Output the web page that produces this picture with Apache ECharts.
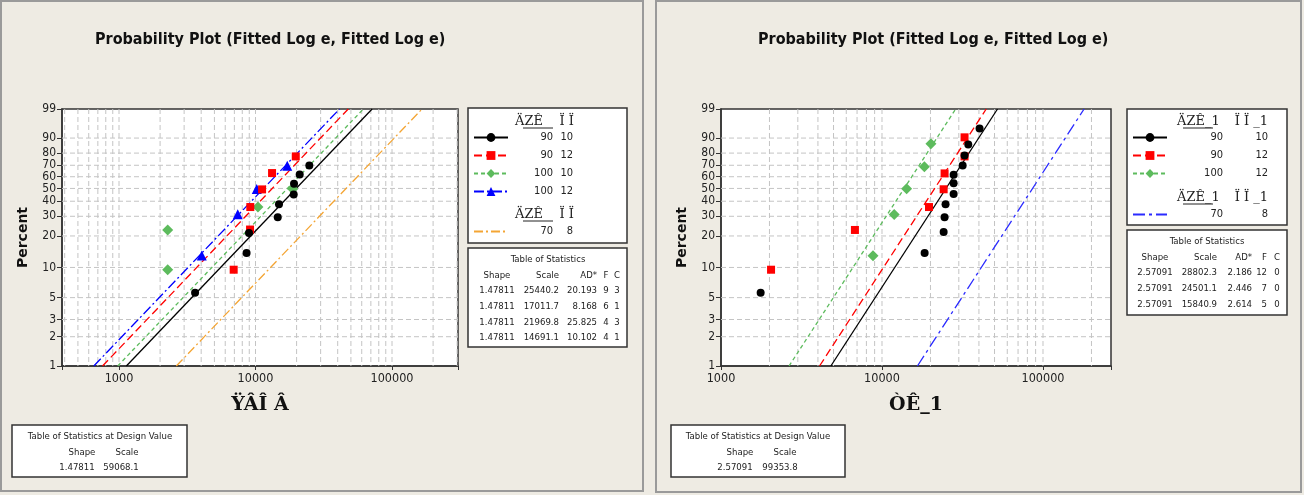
<!DOCTYPE html>
<html>
<head>
<meta charset="utf-8">
<script src="https://cdn.jsdelivr.net/npm/echarts@6/dist/echarts.min.js"></script>
<style>html,body{margin:0;padding:0;background:#eeebe3}#main{width:1304px;height:495px}</style>
</head>
<body>
<div id="main"></div>
<script>
// axis ticks
var pctTicks = [1, 2, 3, 5, 10, 20, 30, 40, 50, 60, 70, 80, 90, 99];
var pctGrid = [2, 3, 5, 10, 20, 30, 40, 50, 60, 70, 80, 90];
var timeTicks = [1000, 10000, 100000];
var leftTimeGrid = [400, 500, 600, 700, 800, 900, 1000, 2000, 3000, 4000, 5000, 6000, 7000, 8000, 9000,
	10000, 20000, 30000, 40000, 50000, 60000, 70000, 80000, 90000, 100000, 200000, 300000];
var rightTimeGrid = [2000, 3000, 4000, 5000, 6000, 7000, 8000, 9000, 10000, 20000, 30000, 40000, 50000,
	60000, 70000, 80000, 90000, 100000, 200000];

// left plot points (time, percent)
var l9010x = [3608, 8600, 8960, 14550, 14860, 19050, 19150, 21070, 24790];
var l9010p = [5.6, 13.8, 21.3, 29.4, 37.8, 45.2, 54.0, 62.0, 69.9];
var l9012x = [6920, 9120, 9160, 11170, 13220, 19720];
var l9012p = [9.5, 22.9, 35.9, 49.2, 63.2, 77.4];
var l10010x = [2273, 2273, 10420, 18720];
var l10010p = [9.5, 22.7, 35.9, 49.5];
var l10012x = [4037, 7410, 10210, 17090];
var l10012p = [13.1, 31.2, 49.5, 69.6];

// right plot points
var r9010x = [1763, 18400, 24150, 24480, 24820, 27860, 27860, 27860, 31700, 32570, 34350, 40370];
var r9010p = [5.6, 13.8, 21.7, 29.5, 37.9, 45.4, 54.3, 61.7, 69.9, 78.2, 86.2, 94.5];
var r9012x = [2046, 6790, 19590, 24150, 24480, 32570, 32570];
var r9012p = [9.5, 22.7, 35.9, 49.3, 62.9, 77.4, 90.4];
var r10012x = [8790, 11910, 14220, 18330, 20130];
var r10012p = [13.0, 31.1, 49.7, 68.7, 86.6];

// table of statistics
var leftGroups = [['90', '10'], ['90', '12'], ['100', '10'], ['100', '12']];
var leftShape = ['1.47811', '1.47811', '1.47811', '1.47811'];
var leftScale = ['25440.2', '17011.7', '21969.8', '14691.1'];
var leftAD = ['20.193', '8.168', '25.825', '10.102'];
var leftF = ['9', '6', '4', '4'];
var leftC = ['3', '1', '3', '1'];
var leftDesign = ['1.47811', '59068.1'];

var rightGroups = [['90', '10'], ['90', '12'], ['100', '12']];
var rightShape = ['2.57091', '2.57091', '2.57091'];
var rightScale = ['28802.3', '24501.1', '15840.9'];
var rightAD = ['2.186', '2.446', '2.614'];
var rightF = ['12', '7', '5'];
var rightC = ['0', '0', '0'];
var rightDesign = ['2.57091', '99353.8'];
var designGroup = ['70', '8'];

var yMin = wb(1), yMax = wb(99);
var font = "'DejaVu Sans Condensed', 'DejaVu Sans', sans-serif";

function wb(p) {
	return Math.log(-Math.log(1 - p / 100));
}
function pts(xs, ps) {
	return xs.map(function (x, i) { return [x, wb(ps[i])]; });
}
function fit(shape, scale) {
	shape = +shape; scale = +scale;
	return [[scale * Math.exp(yMin / shape), yMin], [scale * Math.exp(yMax / shape), yMax]];
}

var legendText = {};
leftGroups.forEach(function (g, i) { legendText['L' + i] = g; });
rightGroups.forEach(function (g, i) { legendText['R' + i] = g; });
legendText['LD'] = designGroup;
legendText['RD'] = designGroup;

function xAxisOf(idx, min, max, name) {
	return {
		type: 'log', gridIndex: idx, min: min, max: max,
		name: name, nameLocation: 'middle', nameGap: 30,
		nameTextStyle: { fontFamily: 'DejaVu Serif', fontWeight: 'bold', fontSize: 19, color: '#111' },
		axisLine: { onZero: false, lineStyle: { color: '#333', width: 1.5 } },
		axisTick: { length: 4, lineStyle: { color: '#333' } },
		axisLabel: {
			margin: 6, color: '#222', fontSize: 12.5, fontFamily: font,
			showMinLabel: true, showMaxLabel: true,
			formatter: function (v) {
				for (var i = 0; i < timeTicks.length; i++) {
					if (Math.abs(v - timeTicks[i]) / timeTicks[i] < 1e-6) return String(timeTicks[i]);
				}
				return '';
			}
		},
		splitLine: { show: false }
	};
}
function yAxisOf(idx) {
	var vals = pctTicks.map(wb);
	return {
		type: 'value', gridIndex: idx, min: yMin, max: yMax,
		name: 'Percent', nameLocation: 'middle', nameGap: 32,
		nameTextStyle: { fontWeight: 'bold', fontSize: 14, color: '#111', fontFamily: 'DejaVu Sans' },
		axisLine: { show: true, onZero: false, lineStyle: { color: '#333', width: 1.5 } },
		axisTick: { show: true, length: 5, customValues: vals, lineStyle: { color: '#333' } },
		axisLabel: {
			margin: 6, color: '#222', fontSize: 12, fontFamily: font, customValues: vals,
			formatter: function (v) {
				for (var i = 0; i < pctTicks.length; i++) {
					if (Math.abs(v - vals[i]) < 1e-6) return String(pctTicks[i]);
				}
				return '';
			}
		},
		splitLine: { show: false }
	};
}

function vGrid(params, api) {
	var cs = params.coordSys;
	var x = api.coord([api.value(0), api.value(1)])[0];
	return { type: 'line', shape: { x1: x, y1: cs.y, x2: x, y2: cs.y + cs.height },
		style: { stroke: '#c4c4c4', lineWidth: 1, lineDash: [5, 3] } };
}
function hGrid(params, api) {
	var cs = params.coordSys;
	var y = api.coord([api.value(0), api.value(1)])[1];
	return { type: 'line', shape: { x1: cs.x, y1: y, x2: cs.x + cs.width, y2: y },
		style: { stroke: '#c4c4c4', lineWidth: 1, lineDash: [5, 3] } };
}
function gridSeries(idx, xs, xMin) {
	return [{
		type: 'custom', xAxisIndex: idx, yAxisIndex: idx, silent: true, z: 1,
		renderItem: vGrid, data: xs.map(function (v) { return [v, yMin]; })
	}, {
		type: 'custom', xAxisIndex: idx, yAxisIndex: idx, silent: true, z: 1,
		renderItem: hGrid, data: pctGrid.map(function (p) { return [xMin, wb(p)]; })
	}];
}
function group(idx, name, color, symbol, size, dash, fitData, points) {
	var out = [{
		type: 'line', name: name, xAxisIndex: idx, yAxisIndex: idx, z: 2,
		data: fitData, showSymbol: false, symbol: symbol, symbolSize: size,
		itemStyle: { color: color },
		lineStyle: { color: color, width: 1.3, type: dash },
		emphasis: { disabled: true }
	}];
	if (points) {
		out.push({
			type: 'scatter', name: name, xAxisIndex: idx, yAxisIndex: idx, z: 3,
			symbol: symbol, symbolSize: size, itemStyle: { color: color, opacity: 1 },
			data: points
		});
	}
	return out;
}

var series = [].concat(
	gridSeries(0, leftTimeGrid, 382.3),
	gridSeries(1, rightTimeGrid, 1000),
	group(0, 'LD', '#f4a534', 'none', 0, [9, 3, 2, 3], fit(leftDesign[0], leftDesign[1])),
	group(0, 'L3', '#0000ff', 'triangle', 10, [10, 3, 2, 3], fit(leftShape[3], leftScale[3]), pts(l10012x, l10012p)),
	group(0, 'L2', '#5dbb5d', 'diamond', 11, [4, 3], fit(leftShape[2], leftScale[2]), pts(l10010x, l10010p)),
	group(0, 'L1', '#ff0000', 'rect', 8, [8, 4], fit(leftShape[1], leftScale[1]), pts(l9012x, l9012p)),
	group(0, 'L0', '#000000', 'circle', 8, 'solid', fit(leftShape[0], leftScale[0]), pts(l9010x, l9010p)),
	group(1, 'RD', '#2b2bff', 'none', 0, [12, 4, 3, 4], fit(rightDesign[0], rightDesign[1])),
	group(1, 'R2', '#5dbb5d', 'diamond', 11, [4, 3], fit(rightShape[2], rightScale[2]), pts(r10012x, r10012p)),
	group(1, 'R1', '#ff0000', 'rect', 8, [8, 4], fit(rightShape[1], rightScale[1]), pts(r9012x, r9012p)),
	group(1, 'R0', '#000000', 'circle', 8, 'solid', fit(rightShape[0], rightScale[0]), pts(r9010x, r9010p))
);

function legendOf(names, left, top, aw, bw, noSymbol) {
	return {
		data: names.map(function (n) {
			return noSymbol ? { name: n, itemStyle: { opacity: 0 } } : n;
		}),
		orient: 'vertical', left: left, top: top, itemWidth: 34, itemHeight: 11,
		itemGap: 7, selectedMode: false, padding: 0,
		formatter: function (n) { return '{a|' + legendText[n][0] + '}{b|' + legendText[n][1] + '}'; },
		textStyle: {
			rich: {
				a: { width: aw, align: 'right', fontSize: 11, color: '#222', fontFamily: font },
				b: { width: bw, align: 'right', fontSize: 11, color: '#222', fontFamily: font }
			}
		}
	};
}

var graphic = [];
function box(x, y, w, h) {
	graphic.push({ type: 'rect', shape: { x: x, y: y, width: w, height: h }, z: 0,
		style: { fill: '#fff', stroke: '#333', lineWidth: 1.5 } });
}
function txt(s, x, y, align, size, fam) {
	graphic.push({ type: 'text', x: x, y: y, z: 1,
		style: { text: s, align: align, verticalAlign: 'middle', fill: '#222',
			font: (size || 9.5) + 'px ' + (fam || font) } });
}
function uline(x1, x2, y) {
	graphic.push({ type: 'line', z: 1, shape: { x1: x1, y1: y, x2: x2, y2: y },
		style: { stroke: '#222', lineWidth: 1 } });
}

// panel frames
graphic.push({ type: 'rect', shape: { x: 1, y: 1, width: 642, height: 490 }, z: 0,
	style: { fill: 'none', stroke: '#9a9a9a', lineWidth: 2 } });
graphic.push({ type: 'rect', shape: { x: 656, y: 1, width: 645, height: 491 }, z: 0,
	style: { fill: 'none', stroke: '#9a9a9a', lineWidth: 2 } });

// left legend box + headers
box(468, 108, 159, 135);
txt('ÄZÊ', 515, 122, 'left', 13, 'DejaVu Serif');
txt('Ï Ï', 574, 122, 'right', 13, 'DejaVu Serif');
uline(523, 553, 128);
txt('ÄZÊ', 515, 215, 'left', 13, 'DejaVu Serif');
txt('Ï Ï', 574, 215, 'right', 13, 'DejaVu Serif');
uline(523, 553, 221);

// left statistics table
box(468, 248, 159, 99);
txt('Table of Statistics', 548, 260, 'center');
txt('Shape', 497, 276, 'center');
txt('Scale', 559, 276, 'right');
txt('AD*', 597, 276, 'right');
txt('F', 606, 276, 'center');
txt('C', 617, 276, 'center');
leftShape.forEach(function (s, i) {
	var y = 291 + i * 15.6;
	txt(s, 497, y, 'center');
	txt(leftScale[i], 559, y, 'right');
	txt(leftAD[i], 597, y, 'right');
	txt(leftF[i], 606, y, 'center');
	txt(leftC[i], 617, y, 'center');
});

// right legend box + headers
box(1127, 109, 160, 116);
txt('ÄZÊ_1', 1177, 122, 'left', 13, 'DejaVu Serif');
txt('Ï Ï _1', 1268, 122, 'right', 13, 'DejaVu Serif');
uline(1183, 1213, 128);
txt('ÄZÊ_1', 1177, 198, 'left', 13, 'DejaVu Serif');
txt('Ï Ï _1', 1268, 198, 'right', 13, 'DejaVu Serif');
uline(1183, 1213, 204);

// right statistics table
box(1127, 230, 160, 85);
txt('Table of Statistics', 1207, 242, 'center');
txt('Shape', 1155, 258, 'center');
txt('Scale', 1217, 258, 'right');
txt('AD*', 1252, 258, 'right');
txt('F', 1267, 258, 'right');
txt('C', 1277, 258, 'center');
rightShape.forEach(function (s, i) {
	var y = 273 + i * 16;
	txt(s, 1155, y, 'center');
	txt(rightScale[i], 1217, y, 'right');
	txt(rightAD[i], 1252, y, 'right');
	txt(rightF[i], 1267, y, 'right');
	txt(rightC[i], 1277, y, 'center');
});

// design value tables
box(12, 425, 175, 52);
txt('Table of Statistics at Design Value', 100, 437, 'center');
txt('Shape', 82, 453, 'center');
txt('Scale', 127, 453, 'center');
txt(leftDesign[0], 77, 468, 'center');
txt(leftDesign[1], 121, 468, 'center');
box(671, 425, 174, 52);
txt('Table of Statistics at Design Value', 758, 437, 'center');
txt('Shape', 740, 453, 'center');
txt('Scale', 785, 453, 'center');
txt(rightDesign[0], 735, 468, 'center');
txt(rightDesign[1], 780, 468, 'center');

var option = {
	backgroundColor: '#eeebe3',
	animation: false,
	title: [
		{ text: 'Probability Plot (Fitted Log e, Fitted Log e)', left: 90, top: 27,
			textStyle: { fontSize: 16, fontWeight: 'bold', color: '#111', fontFamily: "'Liberation Sans Narrow', 'DejaVu Sans Condensed', sans-serif" } },
		{ text: 'Probability Plot (Fitted Log e, Fitted Log e)', left: 753, top: 27,
			textStyle: { fontSize: 16, fontWeight: 'bold', color: '#111', fontFamily: "'Liberation Sans Narrow', 'DejaVu Sans Condensed', sans-serif" } }
	],
	grid: [
		{ left: 62, top: 109, width: 396, height: 257, show: true, backgroundColor: '#fff', borderColor: '#333', borderWidth: 1.5 },
		{ left: 721, top: 109, width: 390, height: 257, show: true, backgroundColor: '#fff', borderColor: '#333', borderWidth: 1.5 }
	],
	xAxis: [xAxisOf(0, 382.3, 304400, 'ŸÂÎ Â'), xAxisOf(1, 1000, 264500, 'ÒÊ_1')],
	yAxis: [yAxisOf(0), yAxisOf(1)],
	legend: [
		legendOf(['L0', 'L1', 'L2', 'L3'], 473, 132, 40, 20),
		legendOf(['LD'], 473, 226, 40, 20, true),
		legendOf(['R0', 'R1', 'R2'], 1132, 132, 51, 45),
		legendOf(['RD'], 1132, 209, 51, 45, true)
	],
	graphic: graphic,
	series: series
};

var myChart = echarts.init(document.getElementById('main'));
myChart.setOption(option, true);
</script>
</body>
</html>
